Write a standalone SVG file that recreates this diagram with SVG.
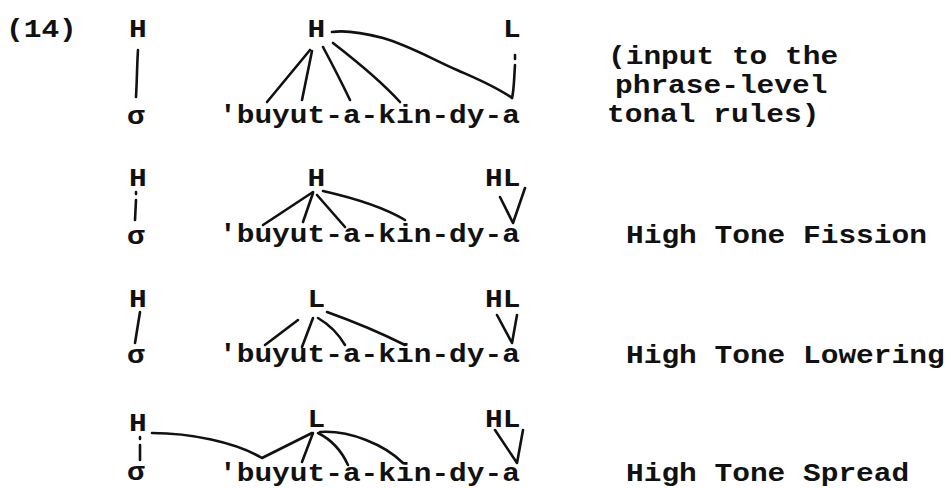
<svg xmlns="http://www.w3.org/2000/svg" width="952" height="488" viewBox="0 0 952 488">
  <style>
    text { font-family: "Liberation Mono", "Courier New", monospace; font-size: 26px; font-weight: bold; fill: #111; }
    .assoc { fill: none; stroke: #111; stroke-width: 2.6; stroke-linecap: round; stroke-linejoin: round; }
  </style>
  <rect width="952" height="488" fill="#fff"/>

  <!-- typewriter pitch: 17.7px per character, glyphs widened via textLength -->
  <text id="example-number" x="6" y="37" textLength="70.8" lengthAdjust="spacingAndGlyphs">(14)</text>

  <!-- Stage 1: input -->
  <g id="r1-H-left"><text x="129" y="37" textLength="17.7" lengthAdjust="spacingAndGlyphs">H</text></g>
  <g id="r1-sigma"><text x="127" y="124" textLength="17.7" lengthAdjust="spacingAndGlyphs">σ</text></g>
  <g id="r1-H"><text x="307.5" y="37" textLength="17.7" lengthAdjust="spacingAndGlyphs">H</text></g>
  <g id="r1-L"><text x="503" y="37" textLength="17.7" lengthAdjust="spacingAndGlyphs">L</text></g>
  <g id="r1-word"><text x="219" y="123" textLength="300.9" lengthAdjust="spacingAndGlyphs">'buyut-a-kin-dy-a</text></g>
  <g id="r1-note">
    <text x="608" y="64" textLength="230.1" lengthAdjust="spacingAndGlyphs">(input to the</text>
    <text x="615" y="93" textLength="212.4" lengthAdjust="spacingAndGlyphs">phrase-level</text>
    <text x="607" y="122" textLength="212.4" lengthAdjust="spacingAndGlyphs">tonal rules)</text>
  </g>

  <!-- Stage 2: High Tone Fission -->
  <g id="r2-H-left"><text x="129" y="186" textLength="17.7" lengthAdjust="spacingAndGlyphs">H</text></g>
  <g id="r2-sigma"><text x="127" y="244" textLength="17.7" lengthAdjust="spacingAndGlyphs">σ</text></g>
  <g id="r2-H"><text x="307.5" y="186" textLength="17.7" lengthAdjust="spacingAndGlyphs">H</text></g>
  <g id="r2-HL"><text x="485" y="186" textLength="35.4" lengthAdjust="spacingAndGlyphs">HL</text></g>
  <g id="r2-word"><text x="219" y="242" textLength="300.9" lengthAdjust="spacingAndGlyphs">'buyut-a-kin-dy-a</text></g>
  <g id="r2-rule"><text x="626" y="243" textLength="300.9" lengthAdjust="spacingAndGlyphs">High Tone Fission</text></g>

  <!-- Stage 3: High Tone Lowering -->
  <g id="r3-H-left"><text x="129" y="307" textLength="17.7" lengthAdjust="spacingAndGlyphs">H</text></g>
  <g id="r3-sigma"><text x="127" y="363" textLength="17.7" lengthAdjust="spacingAndGlyphs">σ</text></g>
  <g id="r3-L"><text x="307.5" y="307" textLength="17.7" lengthAdjust="spacingAndGlyphs">L</text></g>
  <g id="r3-HL"><text x="485" y="307" textLength="35.4" lengthAdjust="spacingAndGlyphs">HL</text></g>
  <g id="r3-word"><text x="219" y="362" textLength="300.9" lengthAdjust="spacingAndGlyphs">'buyut-a-kin-dy-a</text></g>
  <g id="r3-rule"><text x="626" y="363" textLength="318.6" lengthAdjust="spacingAndGlyphs">High Tone Lowering</text></g>

  <!-- Stage 4: High Tone Spread -->
  <g id="r4-H-left"><text x="129" y="431" textLength="17.7" lengthAdjust="spacingAndGlyphs">H</text></g>
  <g id="r4-sigma"><text x="127" y="480" textLength="17.7" lengthAdjust="spacingAndGlyphs">σ</text></g>
  <g id="r4-L"><text x="307.5" y="427" textLength="17.7" lengthAdjust="spacingAndGlyphs">L</text></g>
  <g id="r4-HL"><text x="485" y="427" textLength="35.4" lengthAdjust="spacingAndGlyphs">HL</text></g>
  <g id="r4-word"><text x="219" y="481" textLength="300.9" lengthAdjust="spacingAndGlyphs">'buyut-a-kin-dy-a</text></g>
  <g id="r4-rule"><text x="626" y="481" textLength="283.2" lengthAdjust="spacingAndGlyphs">High Tone Spread</text></g>

  <!-- association lines -->
  <g id="connectors" class="assoc">
    <!-- stage 1 -->
    <path d="M138,50 C137,65 137,80 136,97"/>
    <path d="M310,50 L267,102"/>
    <path d="M312,51 L302,100"/>
    <path d="M323,47 Q338,75 350,100"/>
    <path d="M333,43 C355,60 380,80 400,102"/>
    <path d="M332,32 C345,30 360,32 383,38 C410,46 430,58 457,70 C475,78 495,86 512,98"/>
    <path d="M515,55 L515,59 M515,65 C514,80 514,90 512,98"/>
    <!-- stage 2 -->
    <path d="M136,192 L136,194 M136,200 L135,220"/>
    <path d="M313,192 L263,225"/>
    <path d="M313,193 L303,222"/>
    <path d="M317,195 L345,227"/>
    <path d="M323,191 C345,196 380,205 405,220"/>
    <path d="M500,197 L513,223 L525,188"/>
    <!-- stage 3 -->
    <path d="M140,312 L135,343"/>
    <path d="M298,320 L265,345"/>
    <path d="M313,318 L302,347"/>
    <path d="M318,318 Q335,328 345,345"/>
    <path d="M327,312 C355,322 385,335 405,345"/>
    <path d="M497,315 L512,343 L517,315"/>
    <!-- stage 4 -->
    <path d="M140,437 L140,439 M140,445 L140,460"/>
    <path d="M152,433 C190,433 235,442 262,458 L312,433"/>
    <path d="M313,433 L302,462"/>
    <path d="M318,433 Q338,443 348,465"/>
    <path d="M320,432 C350,430 385,445 403,463"/>
    <path d="M495,430 L517,463 L523,430"/>
  </g>
</svg>
